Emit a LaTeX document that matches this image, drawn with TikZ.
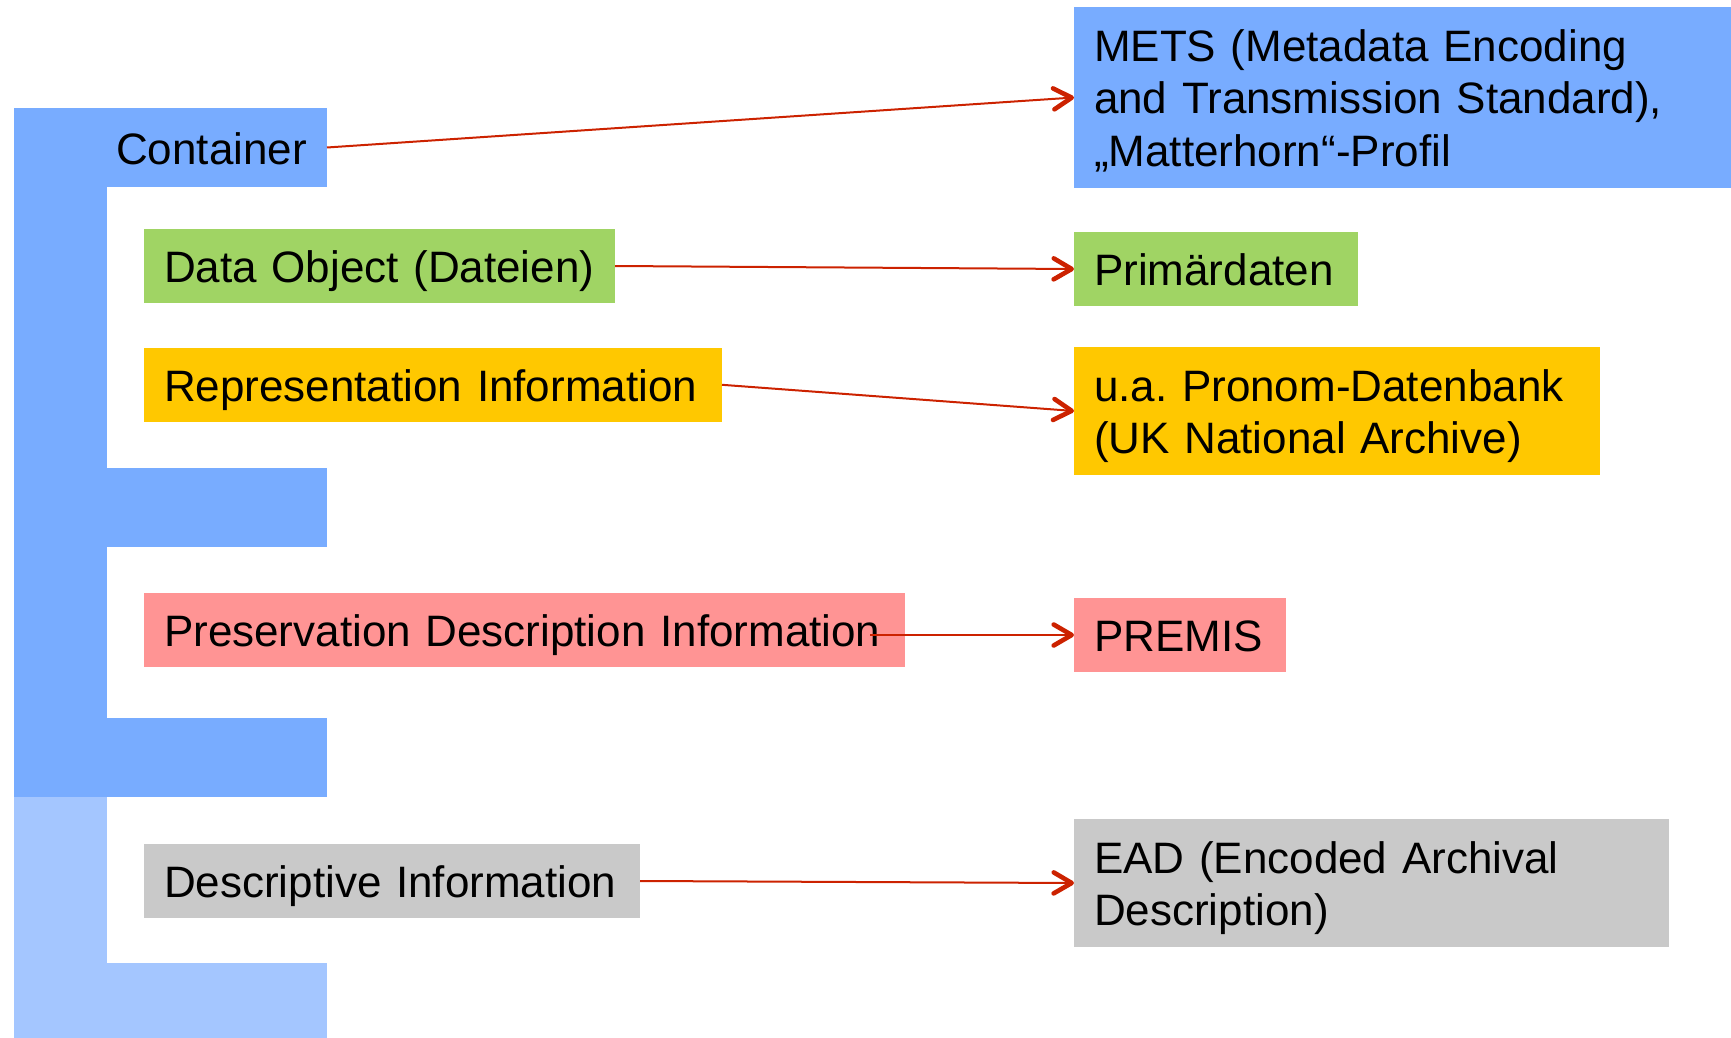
\documentclass[tikz,border=0pt]{standalone}
\usepackage{fontspec}
\setmainfont{Liberation Sans}
\frenchspacing
\usetikzlibrary{arrows.meta,calc}
\definecolor{eblue}{HTML}{78ACFF}
\definecolor{elight}{HTML}{A4C6FF}
\definecolor{cgreen}{HTML}{A0D464}
\definecolor{corange}{HTML}{FFC800}
\definecolor{cpink}{HTML}{FF9494}
\definecolor{cgray}{HTML}{C9C9C9}
\definecolor{cred}{HTML}{CC2200}
\tikzset{
  box/.style={anchor=north west, inner xsep=10pt, inner ysep=0pt, outer sep=0pt,
    align=left, font=\fontsize{22}{26.3}\selectfont, text=black, text height=16.5pt},
  oneline/.style={box, text depth=0pt},
  twolines/.style={box, text depth=26.3pt},
  threelines/.style={box, text depth=52.6pt},
  link/.style={draw=cred, line width=1pt,
    -{Straight Barb[length=9pt,width=10.5pt,line width=2.3pt,round]}},
}
\begin{document}
\begin{tikzpicture}[x=0.5pt,y=-0.5pt]
\useasboundingbox (0,0) rectangle (1731,1038);
% E shape
\fill[eblue] (14,108) rectangle (107,797);
\fill[eblue] (14,468) rectangle (327,547);
\fill[eblue] (14,718) rectangle (327,797);
\fill[elight] (14,797) rectangle (107,1038);
\fill[elight] (14,963) rectangle (327,1038);
% left nodes
\node[oneline, fill=eblue, text width=136.5pt, minimum height=39.5pt, align=right] (container) at (14,108) {Container};
\node[oneline, fill=cgreen, text width=215.5pt, minimum height=37pt] (data) at (144,229) {Data Object (Dateien)};
\node[oneline, fill=corange, text width=269pt, minimum height=36.8pt] (rep) at (144,348) {Representation Information};
\node[oneline, fill=cpink, text width=360.5pt, minimum height=37pt] (pdi) at (144,593) {Preservation Description Information};
\node[oneline, fill=cgray, text width=228pt, minimum height=37pt] (desc) at (144,844) {Descriptive Information};
% right nodes
\node[threelines, fill=eblue, text width=308.5pt, minimum height=90.5pt] (mets) at (1074,7) {METS (Metadata Encoding\\and Transmission Standard),\\„Matterhorn“-Profil};
\node[oneline, fill=cgreen, text width=122pt, minimum height=37pt] (prim) at (1074,232) {Primärdaten};
\node[twolines, fill=corange, text width=243pt, minimum height=64pt] (pronom) at (1074,347) {u.a. Pronom-Datenbank\\(UK National Archive)};
\node[oneline, fill=cpink, text width=86pt, minimum height=37pt] (premis) at (1074,598) {PREMIS};
\node[twolines, fill=cgray, text width=277.5pt, minimum height=64pt] (ead) at (1074,819) {EAD (Encoded Archival\\Description)};
% connectors
\draw[link] (container.east) -- (mets.west);
\draw[link] (data.east) -- (prim.west);
\draw[link] (rep.east) -- (pronom.west);
\draw[link] ($(pdi.east |- premis.west)+(-35,0)$) -- (premis.west);
\draw[link] (desc.east) -- (ead.west);
\end{tikzpicture}
\end{document}
